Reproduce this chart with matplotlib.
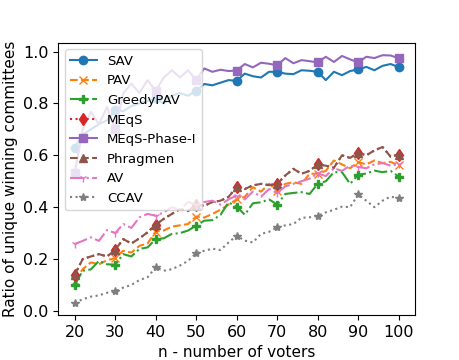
import matplotlib
matplotlib.use("Agg")
import matplotlib.pyplot as plt
import numpy as np

n_voters = list(range(20, 101, 2))

sav = [0.63, 0.68, 0.70, 0.72, 0.735, 0.774, 0.77, 0.79, 0.80, 0.81,
       0.82, 0.80, 0.83, 0.84, 0.83, 0.848, 0.875, 0.87, 0.88, 0.89,
       0.887, 0.915, 0.905, 0.90, 0.922, 0.922, 0.915, 0.913, 0.928, 0.926,
       0.922, 0.89, 0.922, 0.909, 0.925, 0.931, 0.941, 0.928, 0.945, 0.952, 0.94]
pav = [0.116, 0.161, 0.187, 0.18, 0.195, 0.204, 0.232, 0.225, 0.251, 0.26,
       0.306, 0.31, 0.325, 0.33, 0.335, 0.364, 0.36, 0.374, 0.39, 0.41,
       0.43, 0.44, 0.477, 0.46, 0.49, 0.464, 0.49, 0.496, 0.49, 0.529,
       0.529, 0.54, 0.58, 0.565, 0.55, 0.574, 0.565, 0.58, 0.57, 0.575, 0.561]
greedy_pav = [0.10, 0.155, 0.16, 0.193, 0.18, 0.178, 0.219, 0.21, 0.239, 0.245,
              0.277, 0.28, 0.297, 0.30, 0.31, 0.329, 0.348, 0.35, 0.37, 0.419,
              0.402, 0.371, 0.415, 0.419, 0.43, 0.41, 0.451, 0.455, 0.458, 0.451,
              0.49, 0.50, 0.535, 0.535, 0.49, 0.525, 0.53, 0.541, 0.535, 0.54, 0.518]
meqs = [0.139, 0.20, 0.21, 0.219, 0.21, 0.235, 0.277, 0.26, 0.28, 0.303,
        0.333, 0.355, 0.374, 0.393, 0.385, 0.41, 0.405, 0.42, 0.425, 0.44,
        0.477, 0.47, 0.484, 0.49, 0.485, 0.49, 0.522, 0.548, 0.529, 0.54,
        0.565, 0.56, 0.552, 0.60, 0.59, 0.609, 0.60, 0.619, 0.632, 0.595, 0.603]
meqs_phase1 = [0.531, 0.70, 0.767, 0.72, 0.786, 0.70, 0.838, 0.877, 0.84, 0.89,
               0.848, 0.90, 0.928, 0.90, 0.928, 0.89, 0.935, 0.922, 0.93, 0.925,
               0.927, 0.952, 0.939, 0.957, 0.953, 0.947, 0.975, 0.955, 0.967, 0.963,
               0.958, 0.98, 0.96, 0.983, 0.97, 0.958, 0.98, 0.975, 0.986, 0.985, 0.974]
phragmen = [0.139, 0.20, 0.21, 0.219, 0.21, 0.235, 0.277, 0.26, 0.28, 0.303,
            0.333, 0.355, 0.374, 0.393, 0.385, 0.41, 0.405, 0.42, 0.425, 0.44,
            0.477, 0.47, 0.484, 0.49, 0.485, 0.49, 0.522, 0.548, 0.529, 0.54,
            0.565, 0.56, 0.552, 0.60, 0.59, 0.609, 0.60, 0.619, 0.632, 0.595, 0.603]
av = [0.258, 0.27, 0.284, 0.27, 0.312, 0.30, 0.335, 0.32, 0.361, 0.374,
      0.367, 0.38, 0.40, 0.39, 0.42, 0.41, 0.42, 0.425, 0.41, 0.43,
      0.445, 0.43, 0.46, 0.44, 0.47, 0.455, 0.48, 0.49, 0.50, 0.51,
      0.53, 0.52, 0.55, 0.54, 0.56, 0.555, 0.55, 0.565, 0.57, 0.56, 0.565]
ccav = [0.032, 0.045, 0.055, 0.06, 0.07, 0.075, 0.09, 0.10, 0.119, 0.13,
        0.168, 0.155, 0.161, 0.175, 0.193, 0.222, 0.232, 0.24, 0.235, 0.264,
        0.29, 0.271, 0.264, 0.297, 0.305, 0.322, 0.33, 0.335, 0.359, 0.361,
        0.367, 0.38, 0.39, 0.402, 0.40, 0.449, 0.425, 0.40, 0.425, 0.441, 0.434]

labels = ["SAV", "PAV", "GreedyPAV", "MEqS", "MEqS-Phase-I", "Phragmen", "AV", "CCAV"]
series = [sav, pav, greedy_pav, meqs, meqs_phase1, phragmen, av, ccav]
styles = ["-", "--", "-.", ":", "-", "--", "-.", ":"]
markers = ["o", "x", "P", "d", "s", "^", "1", "*"]

fig = plt.figure(figsize=(4.6, 3.6), dpi=100)
ax = fig.add_axes([0.127, 0.125, 0.775, 0.756])
for lab, ys, ls, mk in zip(labels, series, styles, markers):
    ax.plot(n_voters, ys, linestyle=ls, marker=mk, markevery=5,
            label=lab, linewidth=1.5, markersize=6)

ax.set_xticks(range(20, 101, 10))
ax.set_yticks(np.arange(0, 1.01, 0.2))
ax.tick_params(labelsize=11.5)
ax.set_xlabel("n - number of voters", fontsize=11)
ax.set_ylabel("Ratio of unique winning committees", fontsize=11)
ax.legend(loc="upper left", fontsize=9.5, labelspacing=0.5)
fig.savefig("out.png", dpi=100)
